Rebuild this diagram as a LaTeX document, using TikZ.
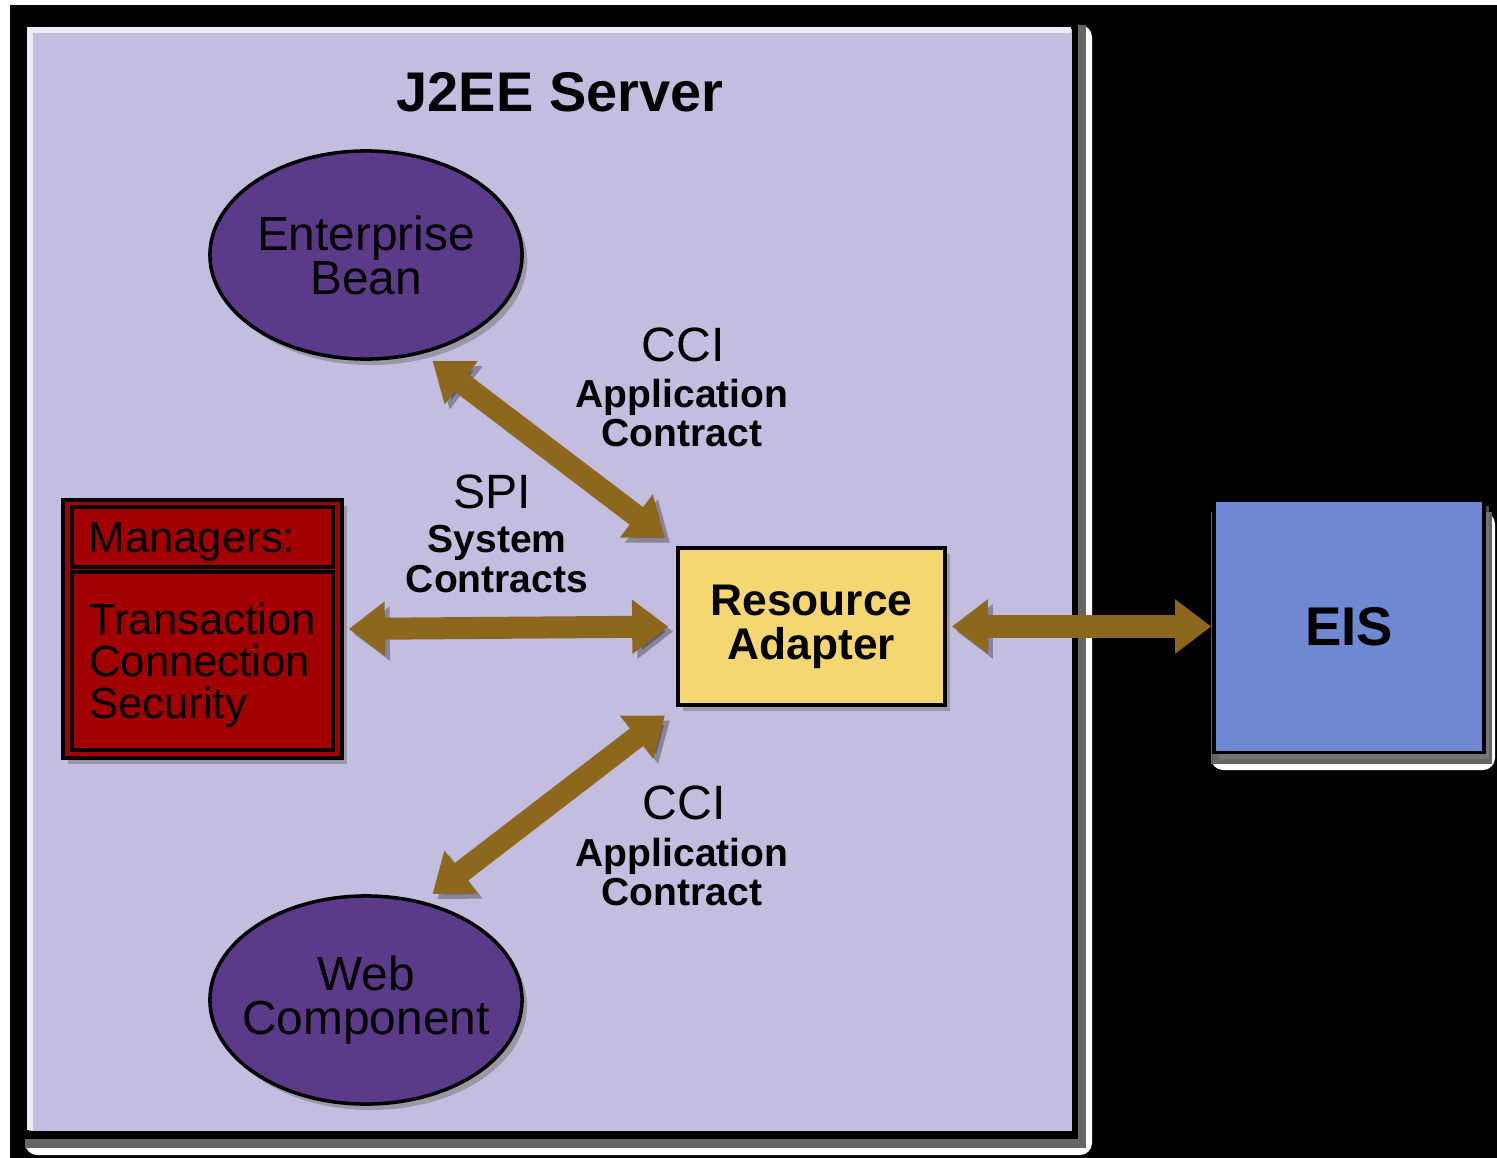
\documentclass[tikz,border=0pt]{standalone}
\usepackage{fontspec}
\setmainfont{Liberation Sans}
\usepackage{xcolor}
\usepackage{tikz}
\usetikzlibrary{shapes}
\usetikzlibrary{shadows}
\usetikzlibrary{arrows.meta}
\definecolor{srvlav}{HTML}{C3BEE0}
\definecolor{beanpurple}{HTML}{5B3A8A}
\definecolor{mgrred}{HTML}{A20000}
\definecolor{adaptyellow}{HTML}{F5D771}
\definecolor{eisblue}{HTML}{6E88D3}
\definecolor{arrbrown}{HTML}{8D681C}
\tikzset{ box_shadow/.style = {drop shadow={shadow xshift=0.05cm, shadow yshift=-0.06cm, opacity=0.6}} }
\tikzset{ comp_ell/.style = {ellipse, draw, line width=1pt, fill=beanpurple, minimum width=3.12cm, minimum height=2.08cm, inner xsep=-0.2cm, inner ysep=0pt, align=center, font=\fontsize{13.6}{12.5}\selectfont, box_shadow} }
\tikzset{ mgr_box/.style = {rectangle, draw, line width=1pt, fill=mgrred, inner sep=0pt, text depth=0pt, font=\fontsize{12.4}{11.9}\selectfont} }
\tikzset{ std_box/.style = {rectangle, draw, line width=1pt, inner sep=0pt, align=center, box_shadow} }
\tikzset{ big_lbl/.style = {inner sep=0pt, font=\fontsize{13.7}{14}\selectfont} }
\tikzset{ small_lbl/.style = {inner sep=0pt, align=center, font=\bfseries\fontsize{11.1}{11.3}\selectfont} }
\tikzset{ cont_arr/.style = {draw=arrbrown, line width=0.22cm, {Triangle[length=0.36cm,width=0.52cm]}-{Triangle[length=0.36cm,width=0.52cm]},
    preaction={draw=black, opacity=0.3, transform canvas={shift={(0.05cm,-0.05cm)}}}} }

\begin{document}
\begin{tikzpicture}[x=0.01cm,y=-0.01cm]
            \useasboundingbox (0,0) rectangle (1497,1158);
            \fill[white] (0,0) rectangle (1497,1158);
            \fill[black] (10,5) rectangle (1497,1158);
            % server frame
            \fill[white, rounded corners=0.12cm] (25,25) rectangle (1092,1155);
            \fill[black!60] (25,25) rectangle (1086,1148);
            \fill[black] (24,24) rectangle (1078,1139);
            \fill[srvlav] (29,29) rectangle (1072,1131);
            \draw[white!70!srvlav, line width=1.5pt] (30,1130) -- (30,30) -- (1071,30);
            \node [font=\bfseries\fontsize{15.9}{18}\selectfont, inner sep=0pt] (title) at (560,92) {J2EE Server};
            % EIS frame
            \fill[white, rounded corners=0.12cm] (1211,512) rectangle (1495,770);
            \fill[black!60] (1211,512) rectangle (1492,764);
            \node [style=std_box, fill=eisblue, minimum width=2.70cm, minimum height=2.52cm, font=\bfseries\fontsize{15.5}{18}\selectfont] (EIS) at (1349,626.5) {EIS};
            % components
            \node [style=comp_ell] (EB) at (366,255) {Enterprise\\Bean};
            \node [style=comp_ell] (WC) at (366,1000) {Web\\Component};
            \node [style=mgr_box, minimum width=2.79cm, minimum height=2.58cm, box_shadow] (MG) at (202.5,629) {};
            \node [style=mgr_box, minimum width=2.61cm, minimum height=0.60cm, text width=2.27cm, inner xsep=0.17cm, align=left] (MGhead) at (202.5,537) {Managers:};
            \node [style=mgr_box, minimum width=2.61cm, minimum height=1.78cm, align=left] (MGbody) at (202.5,661) {Transaction\\Connection\\Security};
            \node [style=std_box, fill=adaptyellow, minimum width=2.67cm, minimum height=1.57cm, font=\bfseries\fontsize{12.6}{12.5}\selectfont] (RA) at (811.5,626.5) {Resource\\Adapter};
            % contract labels
            \node [style=big_lbl] (cci1) at (683,345) {CCI};
            \node [style=small_lbl] (app1) at (682,413) {Application\\Contract};
            \node [style=big_lbl] (spi) at (492,492) {SPI};
            \node [style=small_lbl] (sys) at (497,559) {System\\Contracts};
            \node [style=big_lbl] (cci2) at (684,803) {CCI};
            \node [style=small_lbl] (app2) at (682,872) {Application\\Contract};
            % arrows
            \draw[style=cont_arr, shorten <=0.12cm, shorten >=0.14cm] (EB.-60) -- (RA.north west);
            \draw[style=cont_arr, shorten <=0.14cm, shorten >=0.12cm] (RA.south west) -- (WC.60);
            \draw[style=cont_arr, shorten <=0.05cm, shorten >=0.08cm] (MG.east) -- (RA.west);
            \draw[style=cont_arr, shorten <=0.05cm, shorten >=0.01cm] (RA.east) -- (EIS.west);
       \end{tikzpicture}
\end{document}
